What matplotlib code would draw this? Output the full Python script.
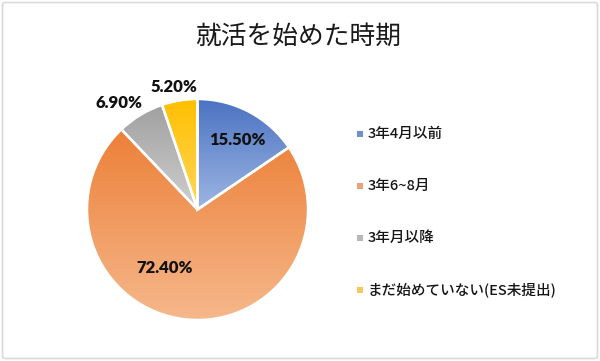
import numpy as np
import matplotlib
matplotlib.use("Agg")
import matplotlib.pyplot as plt
from matplotlib.colors import LinearSegmentedColormap
from matplotlib.patches import Rectangle, FancyBboxPatch

plt.rcParams['font.family'] = ['Noto Sans CJK JP', 'DejaVu Sans']

title = "就活を始めた時期"
categories = ["3年4月以前", "3年6~8月", "3年月以降", "まだ始めていない(ES未提出)"]
values = [15.5, 72.4, 6.9, 5.2]
pct_labels = ["15.50%", "72.40%", "6.90%", "5.20%"]

# gradient colours (top -> bottom) per slice
grad_colors = [("#4a72c2", "#9db5e2"),
               ("#ec8038", "#f6b88c"),
               ("#a0a0a0", "#cfcfcf"),
               ("#ffbf00", "#ffd85a")]
legend_colors = ["#6f8fcc", "#e9a27a", "#b8b8b8", "#f5c85a"]

W, H = 600, 361
fig = plt.figure(figsize=(6, 3.61), dpi=100)
ax = fig.add_axes([0, 0, 1, 1])

cx, cy, r = 197.5, H - 209.5, 110.5
wedges, _ = ax.pie(values, center=(cx, cy), radius=r, startangle=90,
                   counterclock=False, frame=True,
                   wedgeprops=dict(linewidth=0))

for w, (c1, c2) in zip(wedges, grad_colors):
    verts = w.get_path().vertices
    x0, x1 = verts[:, 0].min(), verts[:, 0].max()
    y0, y1 = verts[:, 1].min(), verts[:, 1].max()
    cmap = LinearSegmentedColormap.from_list("g", [c2, c1])
    grad = np.linspace(0, 1, 256).reshape(-1, 1)
    im = ax.imshow(grad, cmap=cmap, extent=[x0, x1, y0, y1], origin='lower',
                   aspect='auto', zorder=1, interpolation='bilinear')
    im.set_clip_path(w)
    w.set_facecolor('none')
    w.set_edgecolor('white')
    w.set_linewidth(1.8)
    w.set_zorder(2)

ax.set_xlim(0, W)
ax.set_ylim(0, H)
ax.set_aspect('equal')
ax.axis('off')

label_pos = [(237.5, 140), (164.5, 268), (118.5, 103), (173.5, 87)]
for (lx, ly), t in zip(label_pos, pct_labels):
    ax.text(lx, H - ly, t, ha='center', va='center', fontsize=12,
            fontweight='heavy', family=['Lato', 'DejaVu Sans'], color='#111111',
            zorder=3)

ax.text(298, H - 37, title, ha='center', va='center', fontsize=18.5,
        color='#1a1a1a', zorder=3)

legend_y = [134, 186, 238, 290]
for y, c, name in zip(legend_y, legend_colors, categories):
    ax.add_patch(Rectangle((356.5, H - y - 3), 6, 6, facecolor=c,
                           edgecolor='none', zorder=3))
    ax.text(368, H - y, name, ha='left', va='center', fontsize=10.5,
            fontweight='medium', color='#151515', zorder=3)

fig.patches.append(FancyBboxPatch((2.5 / W, 2.5 / H), 1 - 5 / W, 1 - 5 / H,
                                  boxstyle="round,pad=0,rounding_size=0.006",
                                  transform=fig.transFigure, fill=False,
                                  edgecolor='#d9d9d9', linewidth=1.2))

fig.savefig("out.png", dpi=100)
